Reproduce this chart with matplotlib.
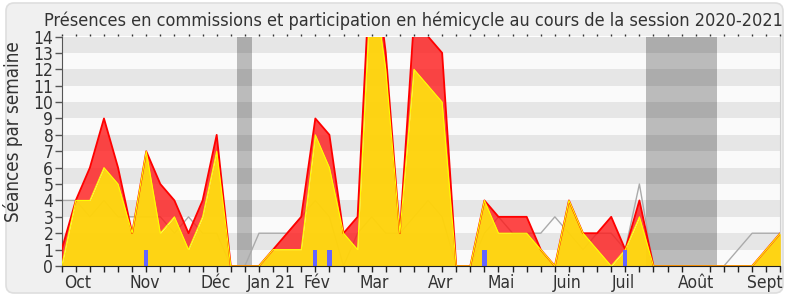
import matplotlib
matplotlib.use('Agg')
import matplotlib.pyplot as plt
import matplotlib.transforms as mtrans
from matplotlib.patches import FancyBboxPatch
from matplotlib import font_manager
import numpy as np

# ---- data (weekly, session 2020-2021) ----
weeks = np.arange(52)
total_seances = [1, 4, 6, 9, 6, 2, 7, 5, 4, 2, 4, 8, 0, 0, 0, 1, 2, 3, 9, 8,
                 2, 3, 20, 13, 2, 15, 14, 13, 0, 0, 4, 3, 3, 3, 1, 0, 4, 2, 2, 3,
                 1, 4, 0, 0, 0, 0, 0, 0, 0, 0, 1, 2]
hemicycle = [0, 4, 4, 6, 5, 2, 7, 2, 3, 1, 3, 7, 0, 0, 0, 1, 1, 1, 8, 6,
             2, 1, 18, 12, 2, 12, 11, 10, 0, 0, 4, 2, 2, 2, 1, 0, 4, 2, 1, 0,
             1, 3, 0, 0, 0, 0, 0, 0, 0, 0, 1, 2]
mediane = [4, 4, 3, 4, 3, 3, 3, 3, 2, 3, 2, 2, 0, 0, 2, 2, 2, 3, 4, 3,
           0, 2, 3, 2, 2, 3, 4, 3, 0, 0, 2, 3, 2, 2, 2, 3, 2, 1, 2, 2,
           1, 5, 0, 0, 0, 0, 0, 0, 1, 2, 2, 2]
questions_weeks = [6, 18, 19, 30, 40]
questions_vals = [1, 1, 1, 1, 1]
month_labels = ['Oct', 'Nov', 'Déc', 'Jan 21', 'Fév', 'Mar', 'Avr', 'Mai',
                'Juin', 'Juil', 'Août', 'Sept']
month_pos = [1.12, 5.91, 10.95, 14.86, 18.1, 22.2, 26.9, 31.16, 35.9, 39.9,
             45.0, 49.9]
vacances = [(12.45, 13.5), (41.47, 46.5)]

W, H = 790, 300
plt.rcParams['font.family'] = ['DejaVu Sans']
stretch = 'normal'
try:
    fp = font_manager.findfont(font_manager.FontProperties(family='DejaVu Sans', stretch='condensed'),
                               fallback_to_default=False)
    if 'Condensed' in fp:
        stretch = 'condensed'
except Exception:
    pass
plt.rcParams['font.stretch'] = stretch

fig = plt.figure(figsize=(W / 100, H / 100), dpi=100, facecolor='white')

bg = FancyBboxPatch((6, 7), 777, 290, boxstyle='round,pad=0,rounding_size=8',
                    transform=mtrans.IdentityTransform(), facecolor='#f0f0f0',
                    edgecolor='#dedede', lw=1.2, zorder=-10)
fig.patches.append(bg)

ax = fig.add_axes([61.7 / W, 1 - 266 / H, (780.3 - 61.7) / W, (266 - 36.5) / H])
ax.set_zorder(5)
ax.set_facecolor('#fafafa')
ax.set_xlim(0, 51)
ax.set_ylim(0, 14)
for k in range(1, 14, 2):
    ax.axhspan(k, k + 1, color='#e6e6e6', lw=0, zorder=0)

for a, b in vacances:
    ax.axvspan(a, b, color='black', alpha=0.25, lw=0, zorder=1)

ax.plot(weeks, mediane, color='#aaaaaa', lw=1.0, zorder=2)
ax.fill_between(weeks, hemicycle, total_seances, color='#ff1a1a', alpha=0.8,
                lw=0, zorder=3)
ax.fill_between(weeks, 0, hemicycle, color='#ffd30a', alpha=0.96, lw=0,
                zorder=4)
ax.plot(weeks, total_seances, color='#ff0000', lw=1.3, zorder=5)
ax.plot(weeks, hemicycle, color='#ffff00', lw=0.8, zorder=6)
ax.bar(questions_weeks, questions_vals, width=0.3, color='#6464ff', lw=0,
       zorder=7)

ax.spines['top'].set_visible(False)
ax.spines['right'].set_color('#d0d0d0')
ax.spines['right'].set_linewidth(0.8)
ax.spines['left'].set_color('#555555')
ax.spines['bottom'].set_color('#222222')
ax.spines['bottom'].set_zorder(8)

ax.set_yticks(range(0, 15))
ax.tick_params(axis='y', length=5, width=1, color='#555555', pad=1,
               labelsize=12.5, labelcolor='#333333')
ax.set_xticks(month_pos)
ax.set_xticklabels(month_labels)
ax.set_xticks(weeks, minor=True)
ax.tick_params(axis='x', which='major', length=0, pad=6, labelsize=12.5,
               labelcolor='#333333')
ax.tick_params(axis='x', which='minor', length=4, width=1, color='#222222')

top = ax.secondary_xaxis('top')
top.set_xticks([])
top.set_xticks(weeks, minor=True)
top.tick_params(which='minor', length=1.5, width=1, color='#333333')
top.spines['top'].set_visible(False)

ylab = fig.text(12.7 / W, 1 - 132 / H, 'Séances par semaine', rotation=90,
                ha='center', va='center', fontsize=12, color='#333333')

title = fig.text(413 / W, 1 - 26 / H,
                 'Présences en commissions et participation en hémicycle au cours de la session 2020-2021',
                 ha='center', va='baseline', fontsize=12, color='#333333')

fig.canvas.draw()
r = fig.canvas.get_renderer()
w = title.get_window_extent(r).width
title.set_fontsize(12 * 738 / w)
h = ylab.get_window_extent(r).height
ylab.set_fontsize(12 * 181 / h)

fig.savefig('out.png', dpi=100, facecolor='white')
